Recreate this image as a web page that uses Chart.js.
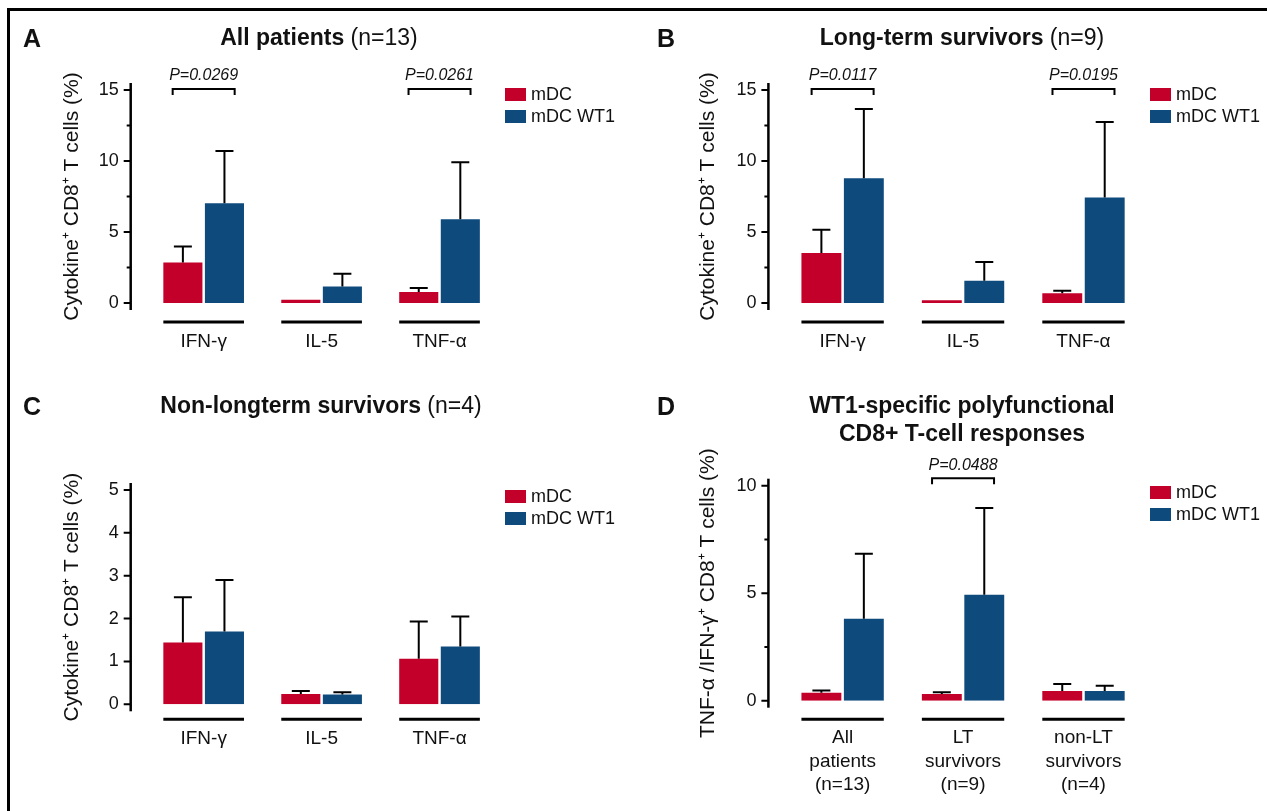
<!DOCTYPE html>
<html>
<head>
<meta charset="utf-8">
<script src="https://cdn.jsdelivr.net/npm/chart.js@4.4.1/dist/chart.umd.min.js"></script>
<style>
  body { margin: 0; background: #fff; }
  #page { position: relative; width: 1267px; height: 811px; overflow: hidden; font-family: "Liberation Sans", Arial, sans-serif; color: #111; }
  .frame { position: absolute; left: 7px; top: 8px; width: 1300px; height: 900px; border-left: 3px solid #000; border-top: 3px solid #000; }
  canvas { position: absolute; }
  .letter { position: absolute; font-weight: bold; font-size: 25px; line-height: 30px; }
  .title { position: absolute; width: 440px; text-align: center; font-size: 23px; line-height: 28px; }
  .title b { font-weight: bold; }
  .legend { position: absolute; font-size: 18px; }
  .legend .row { position: absolute; left: 0; height: 13px; white-space: nowrap; }
  .legend .box { position: absolute; left: 0; top: 0; width: 21px; height: 13px; }
  .legend .txt { position: absolute; left: 26px; top: -4px; line-height: 20px; }
</style>
</head>
<body>
<div id="page">
  <div class="frame"></div>

  <canvas id="chartA" width="640" height="380" style="left:0;top:0"></canvas>
  <canvas id="chartB" width="627" height="380" style="left:640px;top:0"></canvas>
  <canvas id="chartC" width="640" height="431" style="left:0;top:380px"></canvas>
  <canvas id="chartD" width="627" height="431" style="left:640px;top:380px"></canvas>

  <div class="letter" style="left:23px;top:23px">A</div>
  <div class="letter" style="left:657px;top:23px">B</div>
  <div class="letter" style="left:23px;top:391px">C</div>
  <div class="letter" style="left:657px;top:391px">D</div>

  <div class="title" style="left:99px;top:23px"><b>All patients</b> (n=13)</div>
  <div class="title" style="left:742px;top:23px"><b>Long-term survivors</b> (n=9)</div>
  <div class="title" style="left:101px;top:391px"><b>Non-longterm survivors</b> (n=4)</div>
  <div class="title" style="left:742px;top:391px"><b>WT1-specific polyfunctional<br>CD8+ T-cell responses</b></div>

  <div class="legend" style="left:505px;top:88px">
    <div class="row" style="top:0"><div class="box" style="background:#c20029"></div><div class="txt">mDC</div></div>
    <div class="row" style="top:22px"><div class="box" style="background:#0e4a7c"></div><div class="txt">mDC WT1</div></div>
  </div>
  <div class="legend" style="left:1150px;top:88px">
    <div class="row" style="top:0"><div class="box" style="background:#c20029"></div><div class="txt">mDC</div></div>
    <div class="row" style="top:22px"><div class="box" style="background:#0e4a7c"></div><div class="txt">mDC WT1</div></div>
  </div>
  <div class="legend" style="left:505px;top:490px">
    <div class="row" style="top:0"><div class="box" style="background:#c20029"></div><div class="txt">mDC</div></div>
    <div class="row" style="top:22px"><div class="box" style="background:#0e4a7c"></div><div class="txt">mDC WT1</div></div>
  </div>
  <div class="legend" style="left:1150px;top:486px">
    <div class="row" style="top:0"><div class="box" style="background:#c20029"></div><div class="txt">mDC</div></div>
    <div class="row" style="top:22px"><div class="box" style="background:#0e4a7c"></div><div class="txt">mDC WT1</div></div>
  </div>
</div>

<script>
// categories
const cytokines = ['IFN-γ', 'IL-5', 'TNF-α'];
const groups = [['All', 'patients', '(n=13)'], ['LT', 'survivors', '(n=9)'], ['non-LT', 'survivors', '(n=4)']];

// A - all patients (mean and top of error bar)
const allMdc = [2.86, 0.23, 0.77];
const allMdcTop = [3.98, 0.23, 1.05];
const allWt1 = [7.03, 1.17, 5.9];
const allWt1Top = [10.71, 2.06, 9.91];
const allP = ['P=0.0269', null, 'P=0.0261'];

// B - long-term survivors
const ltMdc = [3.52, 0.2, 0.68];
const ltMdcTop = [5.15, 0.25, 0.87];
const ltWt1 = [8.79, 1.57, 7.43];
const ltWt1Top = [13.66, 2.88, 12.75];
const ltP = ['P=0.0117', null, 'P=0.0195'];

// C - non-longterm survivors
const nltMdc = [1.44, 0.24, 1.06];
const nltMdcTop = [2.5, 0.31, 1.93];
const nltWt1 = [1.7, 0.23, 1.35];
const nltWt1Top = [2.9, 0.28, 2.05];
const nltP = [null, null, null];

// D - polyfunctional TNF-a/IFN-g
const polyMdc = [0.37, 0.31, 0.45];
const polyMdcTop = [0.47, 0.39, 0.78];
const polyWt1 = [3.81, 4.93, 0.45];
const polyWt1Top = [6.84, 8.96, 0.7];
const polyP = [null, 'P=0.0488', null];

const RED = '#c20029';
const BLUE = '#0e4a7c';
const FONT = '"Liberation Sans", Arial, sans-serif';

// y axis drawn detached from the plot, plus the group underlines
const prismAxes = {
    id: 'prismAxes',
    afterDraw(chart, args, opts) {
        const { ctx, chartArea: area, scales: { x, y } } = chart;
        const axisX = area.left - opts.gap;
        ctx.save();
        ctx.strokeStyle = '#000';
        ctx.lineWidth = 2.5;
        ctx.beginPath();
        ctx.moveTo(axisX, area.top - opts.extend);
        ctx.lineTo(axisX, area.bottom + opts.extend);
        ctx.stroke();
        ctx.lineWidth = 2;
        ctx.beginPath();
        y.ticks.forEach(t => {
            const py = y.getPixelForValue(t.value);
            const len = (t.value % opts.major === 0) ? 7 : 4;
            ctx.moveTo(axisX - len, py);
            ctx.lineTo(axisX, py);
        });
        ctx.stroke();

        ctx.lineWidth = 3;
        const metas = chart.data.datasets.map((d, i) => chart.getDatasetMeta(i));
        x.ticks.forEach((t, i) => {
            let l = Infinity, r = -Infinity;
            metas.forEach(m => {
                const b = m.data[i];
                l = Math.min(l, b.x - b.width / 2);
                r = Math.max(r, b.x + b.width / 2);
            });
            const py = area.bottom + opts.underline;
            ctx.beginPath();
            ctx.moveTo(l, py);
            ctx.lineTo(r, py);
            ctx.stroke();
        });
        ctx.restore();
    }
};

// only the upper half of the error bars
const upperErrorBars = {
    id: 'upperErrorBars',
    afterDatasetsDraw(chart) {
        const { ctx, scales: { y } } = chart;
        ctx.save();
        ctx.strokeStyle = '#000';
        ctx.lineWidth = 2;
        chart.data.datasets.forEach((ds, i) => {
            chart.getDatasetMeta(i).data.forEach((bar, j) => {
                const top = y.getPixelForValue(ds.errTop[j]);
                if (bar.y - top < 1) return;
                ctx.beginPath();
                ctx.moveTo(bar.x, bar.y);
                ctx.lineTo(bar.x, top);
                ctx.moveTo(bar.x - 9, top);
                ctx.lineTo(bar.x + 9, top);
                ctx.stroke();
            });
        });
        ctx.restore();
    }
};

// significance brackets above the groups
const pBrackets = {
    id: 'pBrackets',
    afterDraw(chart, args, opts) {
        const { ctx, chartArea: area, scales: { x } } = chart;
        ctx.save();
        ctx.strokeStyle = '#000';
        ctx.lineWidth = 2;
        ctx.fillStyle = '#111';
        ctx.font = 'italic 16px ' + FONT;
        ctx.textAlign = 'center';
        ctx.textBaseline = 'middle';
        opts.labels.forEach((label, i) => {
            if (!label) return;
            const cx = x.getPixelForValue(i);
            const yb = area.top + opts.offset;
            ctx.beginPath();
            ctx.moveTo(cx - 31, yb + 6);
            ctx.lineTo(cx - 31, yb);
            ctx.lineTo(cx + 31, yb);
            ctx.lineTo(cx + 31, yb + 6);
            ctx.stroke();
            ctx.fillText(label, cx, yb - 13);
        });
        ctx.restore();
    }
};

function makePanel(id, labels, mdc, mdcTop, wt1, wt1Top, pLabels, cfg) {
    return new Chart(document.getElementById(id), {
        type: 'bar',
        data: {
            labels: labels,
            datasets: [
                { label: 'mDC', data: mdc, errTop: mdcTop, backgroundColor: RED, borderWidth: 0 },
                { label: 'mDC WT1', data: wt1, errTop: wt1Top, backgroundColor: BLUE, borderWidth: 0 }
            ]
        },
        options: {
            responsive: false,
            animation: false,
            categoryPercentage: 0.705,
            barPercentage: 0.94,
            layout: { padding: { left: 0, top: cfg.top, right: cfg.right, bottom: 0 } },
            scales: {
                x: {
                    grid: { display: false, drawTicks: false },
                    border: { display: false },
                    ticks: { color: '#111', padding: cfg.xPad, font: { family: FONT, size: 19, lineHeight: 1.25 } },
                    afterFit: function (s) { s.height = cfg.xHeight; }
                },
                y: {
                    min: 0,
                    max: cfg.max,
                    grid: { display: false, drawTicks: false },
                    border: { display: false },
                    ticks: {
                        stepSize: cfg.step,
                        padding: 26,
                        color: '#111',
                        font: { family: FONT, size: 18 },
                        callback: function (v) { return v % cfg.major === 0 ? v : ''; }
                    },
                    title: {
                        display: true,
                        text: cfg.yTitle,
                        color: '#111',
                        font: { family: FONT, size: 21 },
                        padding: { top: cfg.titleX - 12.6, bottom: 0 }
                    },
                    afterFit: function (s) { s.width = cfg.left; }
                }
            },
            plugins: {
                legend: { display: false },
                tooltip: { enabled: false },
                prismAxes: { gap: 14, extend: 7, major: cfg.major, underline: cfg.underline },
                pBrackets: { labels: pLabels, offset: cfg.bracket }
            }
        },
        plugins: [prismAxes, upperErrorBars, pBrackets]
    });
}

const cytoTitle = 'Cytokine⁺ CD8⁺ T cells (%)';

makePanel('chartA', cytokines, allMdc, allMdcTop, allWt1, allWt1Top, allP, {
    max: 15, step: 2.5, major: 5, yTitle: cytoTitle, titleX: 72,
    left: 144.7, right: 141.5, top: 90, xHeight: 77, xPad: 27, underline: 19, bracket: -1
});
makePanel('chartB', cytokines, ltMdc, ltMdcTop, ltWt1, ltWt1Top, ltP, {
    max: 15, step: 2.5, major: 5, yTitle: cytoTitle, titleX: 68,
    left: 142.4, right: 123.3, top: 90, xHeight: 77, xPad: 27, underline: 19, bracket: -1
});
makePanel('chartC', cytokines, nltMdc, nltMdcTop, nltWt1, nltWt1Top, nltP, {
    max: 5, step: 1, major: 1, yTitle: cytoTitle, titleX: 72,
    left: 144.7, right: 141.5, top: 110, xHeight: 106.7, xPad: 23, underline: 15, bracket: -1
});
makePanel('chartD', groups, polyMdc, polyMdcTop, polyWt1, polyWt1Top, polyP, {
    max: 10, step: 2.5, major: 5, yTitle: 'TNF-α /IFN-γ⁺ CD8⁺ T cells (%)', titleX: 68,
    left: 142.4, right: 123.3, top: 105.7, xHeight: 110.3, xPad: 25, underline: 18.6, bracket: -7.4
});
</script>
</body>
</html>
